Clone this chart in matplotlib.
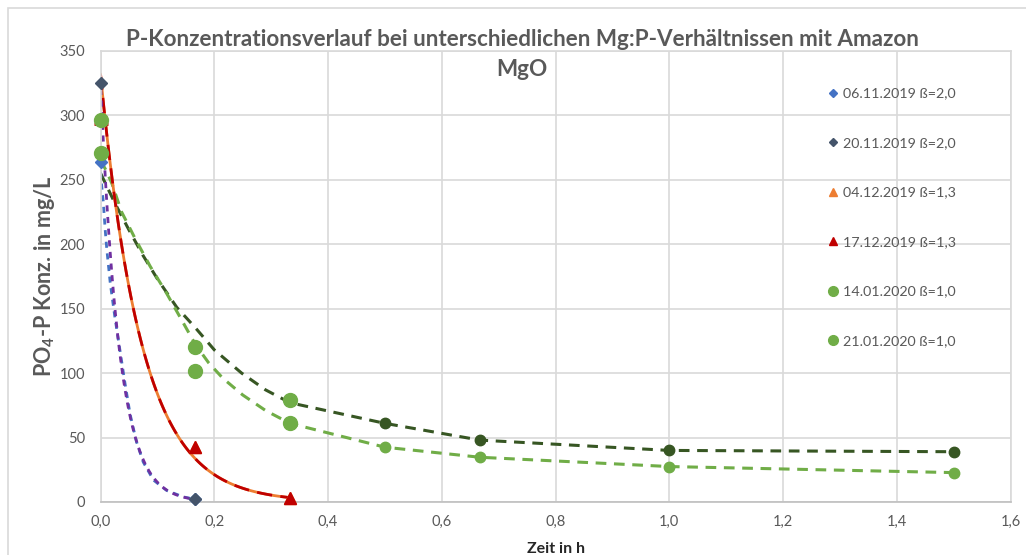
import numpy as np
import matplotlib.pyplot as plt
from matplotlib.ticker import FuncFormatter, MultipleLocator
from matplotlib.patches import Rectangle

plt.rcParams['font.family'] = ['Lato', 'DejaVu Sans']
plt.rcParams['mathtext.fontset'] = 'custom'
plt.rcParams['mathtext.rm'] = 'Lato'
plt.rcParams['mathtext.bf'] = 'Lato:bold'

# Messpunkte (Zeit in h, PO4-P in mg/L)
t_2 = [0, 1/6]
c_0611 = [264, 2]
c_2011 = [325, 2]
t_3 = [0, 1/6, 1/3]
c_0412 = [293, 43, 3]
c_1712 = [293, 43, 3]
t_7 = [0, 1/6, 1/3, 0.5, 2/3, 1.0, 1.5]
c_1401 = [296, 120, 79.5, 61, 48, 40, 39]
c_2101 = [271, 102, 61.5, 42.5, 34.7, 27.5, 22.8]

# Trendlinien
tr_blue_x = [0, 0.001, 0.005, 0.008, 0.011, 0.017, 0.025, 0.034, 0.043, 0.052, 0.063, 0.075, 0.093, 0.116, 0.145, 0.167]
tr_blue_y = [256, 250, 232, 212, 196, 170, 144, 118, 92, 68, 47, 31, 17, 9, 4, 2]
tr_dg_x = [0, 0.025, 0.05, 0.075, 0.1, 0.134, 0.167, 0.2, 0.248, 0.29, 0.333, 0.5, 0.667, 1.0, 1.5]
tr_dg_y = [255, 232, 211, 191, 173, 151, 135, 118, 100, 87, 77, 61, 48, 40, 39]
tr_lg_x = [0, 0.01, 0.02, 0.037, 0.06, 0.087, 0.116, 0.139, 0.167, 0.19, 0.215, 0.25, 0.29, 0.333, 0.5, 0.667, 1.0, 1.5]
tr_lg_y = [265, 257, 247, 225, 205, 183, 162, 144, 122, 108, 96, 83, 71, 61, 42.5, 34.7, 27.5, 22.8]


def exp_trend(t, c, t_end):
    # exponentielle Trendlinie wie in Excel
    b, ln_a = np.polyfit(t, np.log(c), 1)
    x = np.linspace(0, t_end, 120)
    return x, np.exp(ln_a) * np.exp(b * x)


blue = '#4472C4'
slate = '#44546A'
orange = '#ED7D31'
red = '#C00000'
lgreen = '#70AD47'
dgreen = '#375623'
purple = '#7030A0'
gray = '#595959'

fig = plt.figure(figsize=(10.26, 5.55), dpi=100)
ax = fig.add_axes([0.098, 0.0955, 0.887, 0.813])

# Trendlinien
ax.plot(tr_dg_x, tr_dg_y, color=dgreen, lw=2.2, dashes=(3.5, 2.5), zorder=2)
ax.plot(tr_lg_x, tr_lg_y, color=lgreen, lw=2.2, dashes=(3.5, 2.5), zorder=2)
rx, ry = exp_trend(t_3, c_1712, 1/3)
ax.plot(rx, ry, color=orange, lw=2, zorder=2)
ax.plot(rx, ry, color=red, lw=2, dashes=(5.5, 3), zorder=2)
ax.plot(tr_blue_x, tr_blue_y, color=blue, lw=2, ls=(0, (2.2, 2)), zorder=2)
px, py = exp_trend(t_2, c_2011, 1/6)
ax.plot(px, py, color=purple, lw=2, ls=(2.1, (2.2, 2)), zorder=2)
ax.plot([0], [293], marker='_', color=red, ms=10, mew=2, clip_on=False, zorder=3)

# Messpunkte
ax.plot(t_2, c_0611, ls='none', marker='D', ms=6.5, color=blue, clip_on=False, zorder=4, label='06.11.2019 ß=2,0')
ax.plot(t_2, c_2011, ls='none', marker='D', ms=6.5, color=slate, clip_on=False, zorder=4, label='20.11.2019 ß=2,0')
ax.plot(t_3, c_0412, ls='none', marker='^', ms=9, color=orange, markevery=[1, 2], clip_on=False, zorder=4, label='04.12.2019 ß=1,3')
ax.plot(t_3, c_1712, ls='none', marker='^', ms=9, color=red, markevery=[1, 2], clip_on=False, zorder=4, label='17.12.2019 ß=1,3')
ax.plot(t_7[:3], c_1401[:3], ls='none', marker='o', ms=10, color=lgreen, clip_on=False, zorder=4, label='14.01.2020 ß=1,0')
ax.plot(t_7[:3], c_2101[:3], ls='none', marker='o', ms=10, color=lgreen, clip_on=False, zorder=4, label='21.01.2020 ß=1,0')
ax.plot(t_7[3:], c_1401[3:], ls='none', marker='o', ms=7.5, color=dgreen, clip_on=False, zorder=4)
ax.plot(t_7[3:], c_2101[3:], ls='none', marker='o', ms=7.5, color=lgreen, clip_on=False, zorder=4)

ax.set_xlim(0, 1.6)
ax.set_ylim(0, 350)
ax.xaxis.set_major_locator(MultipleLocator(0.2))
ax.yaxis.set_major_locator(MultipleLocator(50))
ax.xaxis.set_major_formatter(FuncFormatter(lambda v, p: f'{v:.1f}'.replace('.', ',')))
ax.grid(True, color='#D9D9D9', lw=1.2, zorder=0)
ax.set_axisbelow(True)
for s in ax.spines.values():
    s.set_color('#D9D9D9')
    s.set_linewidth(1.2)
ax.spines['bottom'].set_color('#BFBFBF')
ax.tick_params(length=0, labelsize=10.5, colors=gray)
ax.tick_params(axis='y', pad=11)
ax.tick_params(axis='x', pad=9)

ax.set_ylabel('PO$_\\mathbf{4}$-P Konz. in mg/L', fontsize=15.5, fontweight='bold', color=gray, labelpad=2)
ax.set_xlabel('Zeit in h', fontsize=11.5, fontweight='bold', color='#262626', labelpad=10)

fig.text(0.509, 0.902, 'P-Konzentrationsverlauf bei unterschiedlichen Mg:P-Verhältnissen mit Amazon\nMgO',
         ha='center', va='center', fontsize=16.2, fontweight='bold', color=gray, linespacing=1.55)

leg = ax.legend(loc='upper left', bbox_to_anchor=(0.786, 0.947), frameon=False, fontsize=10.3,
                labelspacing=2.62, handlelength=0.6, handletextpad=0.4, labelcolor=gray,
                markerscale=0.7)

fig.patches.append(Rectangle((8 / 1026, -0.1), 1.1, 1 - 8 / 555 + 0.1, transform=fig.transFigure,
                             fill=False, edgecolor='#D9D9D9', lw=1.2))

fig.savefig('out.png', dpi=100)
